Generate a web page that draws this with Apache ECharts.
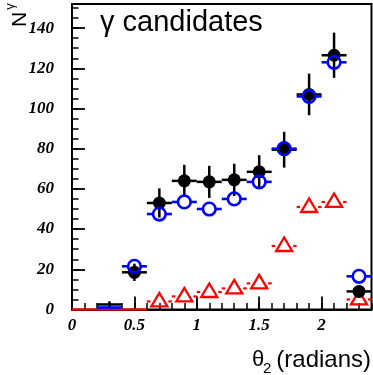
<!DOCTYPE html>
<html><head><meta charset="utf-8">
<script src="https://cdn.jsdelivr.net/npm/echarts@6/dist/echarts.min.js"></script>
<style>html,body{margin:0;padding:0;background:#fff}#c{width:373px;height:375px}</style>
</head><body><div id="c"></div>
<script>
// ---- data ----
const binCenters = [0.1, 0.3, 0.5, 0.7, 0.9, 1.1, 1.3, 1.5, 1.7, 1.9, 2.1, 2.3];
const binWidth = 0.2;
const dataBlack = [null, 2.5, 18.5, 53, 64, 63.5, 64.5, 68.5, 79.5, 107, 126.5, 9];
const dataBlue  = [null, 1, 21.5, 47.5, 53.5, 50, 55, 63.5, 80, 106, 123, 16.5];
const dataRed   = [0, 0, 0, 4, 6.5, 8.7, 10.5, 13, 31.6, 51, 53.5, 5];
const xTickLabels = ['0', '0.5', '1', '1.5', '2'];
const yTickLabels = ['0', '20', '40', '60', '80', '100', '120', '140'];

const MARKER_MIN = 3;

function series(values, kind) {
  const data = [];
  binCenters.forEach((c, i) => { if (values[i] != null) data.push([c, values[i]]); });
  return {
    type: 'custom',
    xAxisIndex: 0, yAxisIndex: 0,
    silent: true,
    z: kind === 'red' ? 3 : (kind === 'black' ? 4 : 5),
    data: data,
    renderItem: function (params, api) {
      const x = api.value(0), y = api.value(1);
      const p = api.coord([x, y]);
      const pl = api.coord([x - binWidth / 2, y]);
      const pr = api.coord([x + binWidth / 2, y]);
      const ch = [];
      const showMarker = y >= MARKER_MIN;
      if (kind === 'black') {
        const lw = 2.5, col = '#000';
        ch.push({type: 'line', shape: {x1: pl[0], y1: p[1], x2: pr[0], y2: p[1]}, style: {stroke: col, lineWidth: lw}});
        const e = Math.sqrt(y);
        const pt = api.coord([x, y + e]), pb = api.coord([x, Math.max(0, y - e)]);
        ch.push({type: 'line', shape: {x1: p[0], y1: pt[1], x2: p[0], y2: pb[1]}, style: {stroke: col, lineWidth: lw}});
        if (showMarker) ch.push({type: 'circle', shape: {cx: p[0], cy: p[1], r: 6.5}, style: {fill: col}});
      } else if (kind === 'blue') {
        const lw = 2.6, col = '#0000ff';
        if (showMarker) {
          ch.push({type: 'line', shape: {x1: pl[0], y1: p[1], x2: p[0] - 6, y2: p[1]}, style: {stroke: col, lineWidth: lw}});
          ch.push({type: 'line', shape: {x1: p[0] + 6, y1: p[1], x2: pr[0], y2: p[1]}, style: {stroke: col, lineWidth: lw}});
          ch.push({type: 'circle', shape: {cx: p[0], cy: p[1], r: 6.3}, style: {fill: null, stroke: col, lineWidth: 2.6}});
        } else {
          ch.push({type: 'line', shape: {x1: pl[0], y1: p[1], x2: pr[0], y2: p[1]}, style: {stroke: col, lineWidth: lw}});
        }
      } else {
        const lw = 2.2, col = '#ff0000';
        if (showMarker) {
          ch.push({type: 'line', shape: {x1: pl[0], y1: p[1], x2: p[0] - 9, y2: p[1]}, style: {stroke: col, lineWidth: lw}});
          ch.push({type: 'line', shape: {x1: p[0] + 9, y1: p[1], x2: pr[0], y2: p[1]}, style: {stroke: col, lineWidth: lw}});
          ch.push({type: 'polygon', shape: {points: [[p[0] - 8, p[1] + 5], [p[0] + 8, p[1] + 5], [p[0], p[1] - 8.5]]},
                   style: {fill: null, stroke: col, lineWidth: 2.3}});
        } else {
          ch.push({type: 'line', shape: {x1: pl[0], y1: p[1], x2: pr[0], y2: p[1]}, style: {stroke: col, lineWidth: lw}});
        }
      }
      return {type: 'group', children: ch};
    }
  };
}

const labelFont = {fontFamily: 'Liberation Serif', fontStyle: 'italic', fontWeight: 'bold', fontSize: 17, color: '#000'};

const chart = echarts.init(document.getElementById('c'), null, {renderer: 'canvas'});
chart.setOption({
  animation: false,
  backgroundColor: '#fff',
  grid: {left: 72, right: 1.5, top: 4, bottom: 65.5, show: true, borderColor: '#000', borderWidth: 2,
         backgroundColor: 'transparent', containLabel: false, outerBoundsMode: 'none'},
  xAxis: [
    {type: 'value', min: 0, max: 2.4, interval: 0.5,
     axisLine: {show: true, onZero: false, lineStyle: {color: '#000', width: 2}},
     axisTick: {inside: true, length: 13, lineStyle: {color: '#000', width: 1.8}},
     axisLabel: Object.assign({margin: 8, showMaxLabel: false,
       formatter: function (v) { const s = String(+v.toFixed(1)); return xTickLabels.indexOf(s) >= 0 ? s : ''; }}, labelFont),
     splitLine: {show: false}},
    {type: 'value', min: 0, max: 2.4, interval: 0.1, position: 'bottom',
     axisLine: {show: false}, axisTick: {inside: true, length: 6.5, lineStyle: {color: '#000', width: 1.5}},
     axisLabel: {show: false}, splitLine: {show: false}}
  ],
  yAxis: [
    {type: 'value', min: 0, max: 152, interval: 20,
     axisLine: {show: true, onZero: false, lineStyle: {color: '#000', width: 2}},
     axisTick: {inside: true, length: 13, lineStyle: {color: '#000', width: 1.8}},
     axisLabel: Object.assign({margin: 18, showMaxLabel: false,
       formatter: function (v) { const s = String(v); return yTickLabels.indexOf(s) >= 0 ? s : ''; }}, labelFont),
     splitLine: {show: false}},
    {type: 'value', min: 0, max: 152, interval: 5, position: 'left',
     axisLine: {show: false}, axisTick: {inside: true, length: 6.5, lineStyle: {color: '#000', width: 1.5}},
     axisLabel: {show: false}, splitLine: {show: false}}
  ],
  series: [series(dataRed, 'red'), series(dataBlack, 'black'), series(dataBlue, 'blue')],
  graphic: [
    {type: 'text', x: 100, y: 23, style: {text: 'γ candidates', font: '29px "Liberation Sans"', fill: '#000', align: 'left', verticalAlign: 'middle'}},
    {type: 'text', x: 252, y: 360, style: {text: 'θ', font: '22px "Liberation Sans"', fill: '#000', align: 'left', verticalAlign: 'middle'}},
    {type: 'text', x: 263, y: 368.7, style: {text: '2', font: '15px "Liberation Sans"', fill: '#000', align: 'left', verticalAlign: 'middle'}},
    {type: 'text', x: 371, y: 360, style: {text: '(radians)', font: '24px "Liberation Sans"', fill: '#000', align: 'right', verticalAlign: 'middle'}},
    {type: 'text', x: 20.5, y: 19.5, rotation: Math.PI / 2, style: {text: 'N', font: '21px "Liberation Sans"', fill: '#000', align: 'center', verticalAlign: 'middle'}},
    {type: 'text', x: 10.8, y: 6.5, rotation: Math.PI / 2, style: {text: 'γ', font: '13px "Liberation Sans"', fill: '#000', align: 'center', verticalAlign: 'middle'}}
  ]
});
</script>
</body></html>
